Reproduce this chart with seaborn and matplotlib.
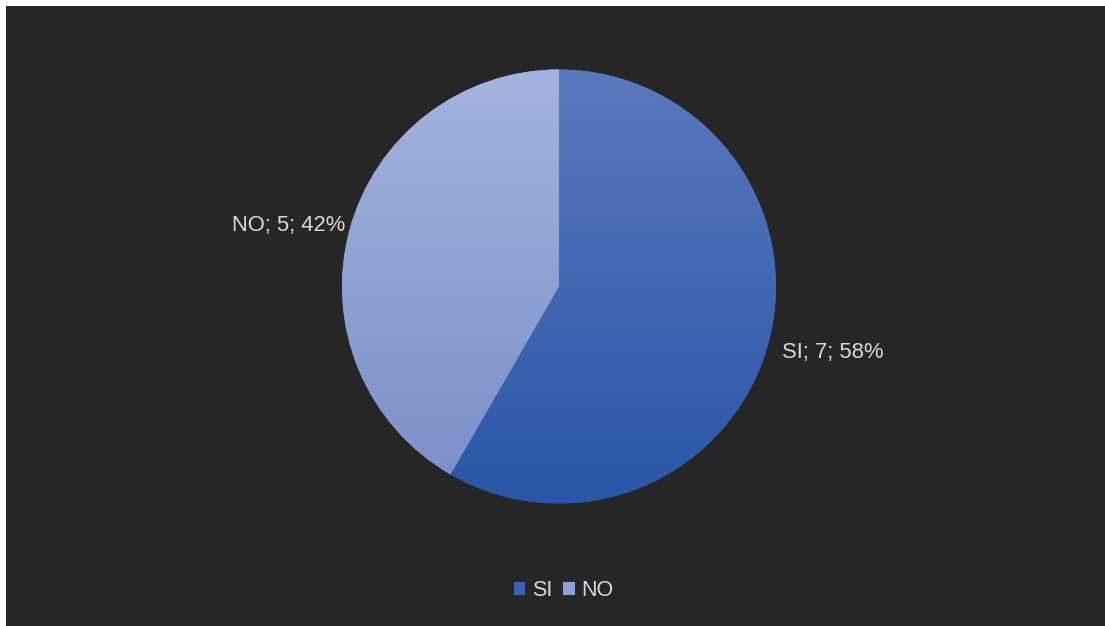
import numpy as np
import matplotlib
matplotlib.use("Agg")
import matplotlib.pyplot as plt
from matplotlib.patches import Rectangle
from matplotlib.colors import LinearSegmentedColormap
import seaborn as sns

# Survey answers
categories = ["SI", "NO"]
counts = [7, 5]

# Vertical gradient per slice: (top colour, bottom colour)
slice_gradients = [("#5a78bd", "#2a56a7"), ("#a4b3de", "#7a8fc8")]
mid_colors = ["#3c63b0", "#8fa2d6"]
# Fine nudges (px) for the outside labels
label_nudges = [(2, -7), (7, 2)]

sns.set_theme(style="dark")
plt.rcParams["font.family"] = ["Liberation Sans", "DejaVu Sans"]

W, H = 1105, 626
fig = plt.figure(figsize=(W / 100, H / 100), dpi=100, facecolor="white")
ax = fig.add_axes([0, 0, 1, 1])
ax.set_facecolor("none")

# Dark chart area
ax.add_patch(Rectangle((6, 0), W - 6, H - 6, facecolor="#262626", edgecolor="none", zorder=0))

total = sum(counts)
labels = [f"{c}; {v}; {round(100 * v / total)}%" for c, v in zip(categories, counts)]

cx, cy, r = 559, 339.5, 217
wedges, texts = ax.pie(
    counts,
    labels=labels,
    colors=mid_colors,
    startangle=90,
    counterclock=False,
    center=(cx, cy),
    radius=r,
    labeldistance=1.055,
    textprops=dict(color="#d9d9d9", fontsize=15.8, zorder=5),
    wedgeprops=dict(linewidth=0, zorder=2),
    frame=True,
)
for t, (dx, dy) in zip(texts, label_nudges):
    x, y = t.get_position()
    t.set_horizontalalignment("left" if x > cx else "right")
    t.set_position((x + dx, y + dy))

# Gradient fill clipped to each wedge
grad = np.linspace(1, 0, 256).reshape(-1, 1)
for w, (top, bottom) in zip(wedges, slice_gradients):
    cmap = LinearSegmentedColormap.from_list("g", [bottom, top])
    im = ax.imshow(grad, cmap=cmap, aspect="auto",
                   extent=(cx - r, cx + r, cy - r, cy + r), origin="upper", zorder=3)
    im.set_clip_path(w)

ax.set_xlim(0, W)
ax.set_ylim(0, H)
ax.axis("off")

leg = ax.legend(
    wedges, categories,
    loc="center", bbox_to_anchor=(0.510, 0.056), bbox_transform=fig.transFigure,
    ncol=2, frameon=False, fontsize=15.5, labelcolor="#d9d9d9",
    handlelength=0.55, handleheight=0.55, handletextpad=0.3, columnspacing=0.5,
)

fig.savefig("out.png", dpi=100, facecolor=fig.get_facecolor())
